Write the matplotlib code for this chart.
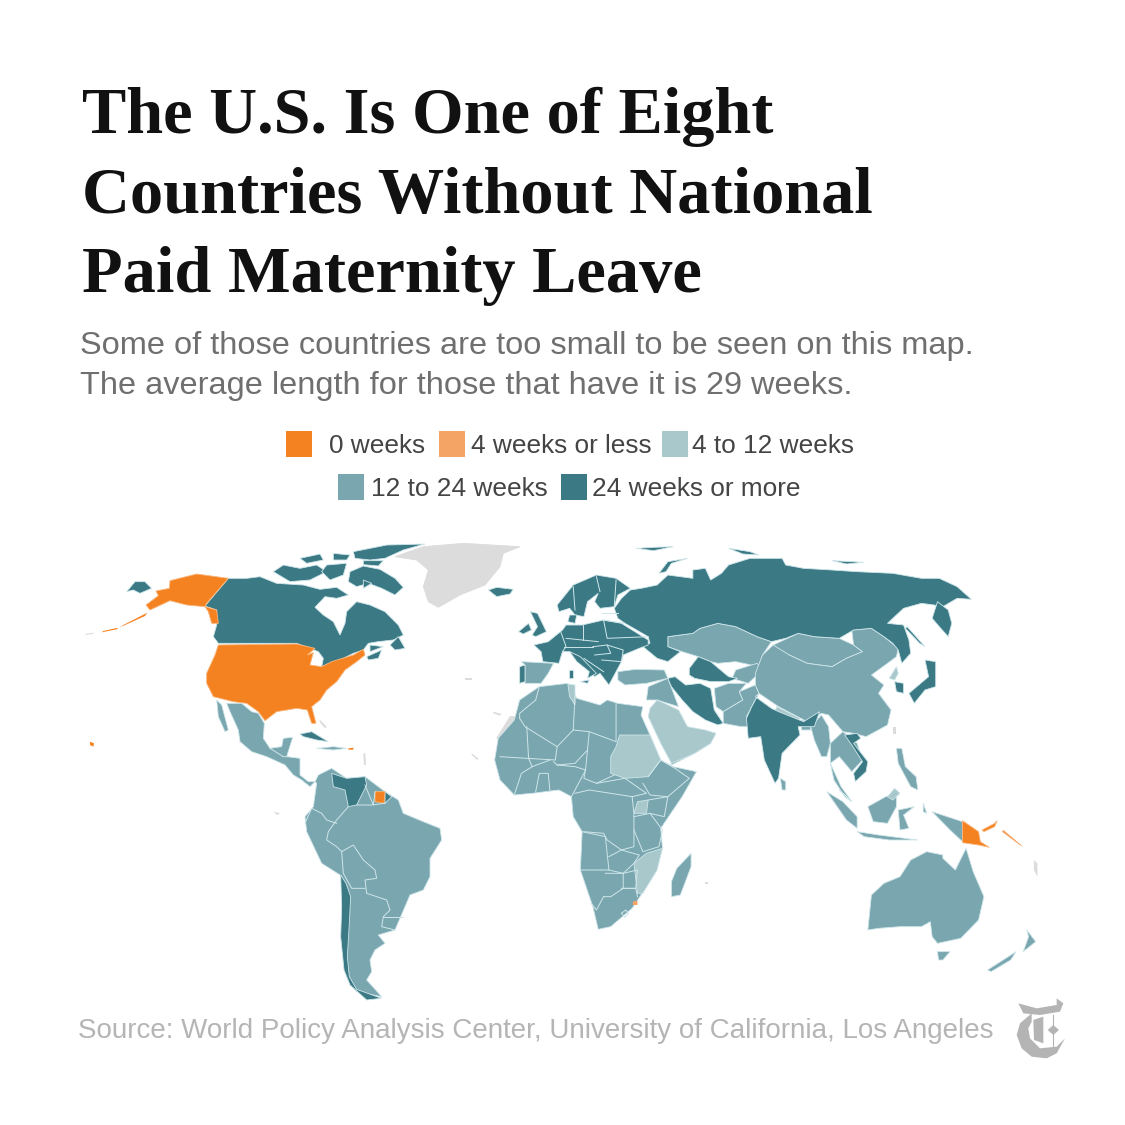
import matplotlib
matplotlib.use('Agg')
import matplotlib.pyplot as plt

# colours
ORANGE = '#f58220'
PALE_ORANGE = '#f4a566'
LIGHT = '#a9c8cb'
MID = '#7aa6af'
DARK = '#3b7a85'
GREY = '#dcdcdc'
EDGE = '#cfe6ea'

title_lines = ['The U.S. Is One of Eight', 'Countries Without National', 'Paid Maternity Leave']
subtitle_lines = ['Some of those countries are too small to be seen on this map.',
                  'The average length for those that have it is 29 weeks.']
source_text = 'Source: World Policy Analysis Center, University of California, Los Angeles'
legend_labels = ['0 weeks', '4 weeks or less', '4 to 12 weeks', '12 to 24 weeks', '24 weeks or more']

# outlines, west half
west_grey = [
    [(975,80),(1060,50),(1180,40),(1350,50),(1300,70),(1290,110),(1245,165),(1170,195),(1105,232),(1075,215),(1060,170),(1075,120),(1040,90)],
    [(1280,625),(1320,560),(1350,560),(1345,575),(1315,585),(1315,625)],
]
west_orange = [
    [(445,345),(680,342),(735,355),(712,375),(730,368),(720,405),(755,410),(785,395),(850,375),(880,358),(885,375),(860,395),(825,420),(800,455),(770,480),(750,510),(725,530),(738,580),(725,580),(712,540),(680,535),(620,545),(585,572),(565,545),(530,520),(490,515),(430,500),(410,460),(410,430),(435,375)],
    [(475,145),(380,132),(300,152),(298,175),(258,183),(265,197),(228,225),(240,240),(300,212),(350,225),(405,230),(440,240),(445,280),(425,280),(415,245),(405,230),(410,220)],
    [(915,785),(945,785),(942,820),(915,815)],
]
west_specks_orange = [
    [(232,248),(160,285),(150,292),(225,258)],
    [(145,293),(100,303),(95,307),(140,298)],
    [(60,635),(72,640),(70,650),(60,645)],
    [(835,655),(850,653),(850,659),(835,659)],
]
west_specks_grey = [
    [(45,312),(70,308),(72,311),(48,315)],
    [(1185,445),(1205,445),(1205,450),(1185,450)],
    [(1270,545),(1295,552),(1290,557),(1270,550)],
    [(1205,670),(1225,685),(1222,690),(1205,675)],
    [(610,845),(630,850),(622,855)],
    [(880,670),(886,670),(888,705),(882,705)],
    [(750,570),(770,590),(765,595),(748,575)],
]
west_mid = [
    [(440,510),(455,525),(475,600),(465,605),(445,560)],
    [(470,520),(515,520),(545,545),(565,550),(583,580),(580,625),(600,655),(635,650),(640,625),(668,622),(650,680),(690,685),(690,735),(715,755),(735,755),(720,770),(695,750),(670,735),(645,705),(590,680),(545,665),(510,635),(505,600),(480,545)],
    [(735,755),(745,735),(785,715),(830,745),(885,740),(945,785),(985,810),(1000,850),(1060,875),(1110,895),(1115,930),(1080,985),(1080,1040),(1060,1080),(1020,1095),(1005,1130),(975,1200),(925,1215),(945,1240),(915,1260),(900,1290),(905,1325),(890,1350),(935,1400),(860,1385),(830,1340),(820,1280),(825,1180),(838,1100),(810,1035),(755,1000),(710,905),(705,860),(730,830),(740,760)],
    [(740,655),(790,650),(830,655),(790,660)],
]
west_dark = [
    [(475,145),(530,145),(570,140),(620,160),(700,165),(750,178),(800,172),(835,195),(800,205),(765,200),(735,232),(760,255),(790,275),(810,315),(825,280),(830,245),(860,215),(900,225),(945,245),(985,285),(1000,315),(970,330),(925,335),(895,340),(880,360),(850,370),(820,385),(780,400),(755,410),(760,385),(745,365),(720,355),(680,340),(445,340),(430,320),(440,285),(440,240),(405,228)],
    [(840,125),(880,108),(930,118),(975,145),(1000,172),(975,195),(935,175),(895,160),(860,170),(835,155)],
    [(850,65),(950,45),(1065,42),(1000,60),(945,85),(900,90),(855,85)],
    [(880,92),(940,92),(925,108),(880,104)],
    [(690,115),(740,105),(770,125),(720,150),(660,155),(610,125),(640,105)],
    [(690,85),(750,72),(760,90),(710,100)],
    [(790,70),(840,75),(830,90),(790,90)],
    [(770,105),(830,100),(820,135),(780,150),(755,125)],
    [(880,150),(905,160),(880,175)],
    [(960,345),(985,320),(1005,355),(975,360)],
    [(890,380),(935,360),(925,385),(895,390)],
    [(900,345),(940,350),(900,365)],
    [(170,185),(195,155),(225,155),(245,175),(210,190),(190,180)],
    [(1255,180),(1280,172),(1330,178),(1320,192),(1280,200)],
    [(785,730),(830,745),(885,740),(890,765),(875,795),(860,825),(835,830),(825,780),(790,770)],
    [(945,785),(965,800),(945,820)],
    [(690,612),(725,605),(775,635),(740,630),(700,620)],
    [(812,1035),(815,1130),(812,1220),(822,1320),(840,1365),(890,1410),(935,1405),(860,1378),(838,1340),(832,1280),(838,1180),(842,1100),(828,1060)],
]
west_borders = [
    [(705,880),(725,835),(755,850),(770,870),(800,880)],
    [(835,830),(800,870),(775,905),(770,930),(800,950),(815,965),(850,945),(880,990),(915,1020),(920,1045),(885,1050),(890,1090),(950,1110),(960,1140),(940,1160),(935,1190),(975,1200)],
    [(815,965),(820,1030),(845,1075),(885,1075)],
    [(940,1160),(1000,1160)],
    [(885,765),(910,825),(915,785)],
    [(860,825),(905,825),(945,820)],
    [(600,655),(640,680),(650,680)],
]

# outlines, east half
east_dark = [
    [(320,235),(340,205),(365,180),(395,175),(440,165),(470,135),(540,145),(540,120),(575,115),(590,150),(620,130),(640,105),(700,85),(790,85),(800,105),(850,115),(930,120),(1000,125),(1100,130),(1180,145),(1230,145),(1280,170),(1320,208),(1280,205),(1240,230),(1215,225),(1180,220),(1130,235),(1085,280),(1130,285),(1145,330),(1150,370),(1125,400),(1115,360),(1100,340),(1075,320),(1040,295),(990,300),(950,325),(880,320),(835,310),(800,325),(760,335),(720,320),(660,290),(610,280),(560,295),(540,310),(470,320),(470,350),(505,365),(470,395),(440,385),(395,345),(420,340),(415,320),(350,280),(330,265)],
    [(445,130),(470,95),(525,85),(480,100),(465,125)],
    [(380,55),(430,52),(485,50),(430,62)],
    [(640,55),(700,65),(725,75),(680,72)],
    [(930,92),(1020,97),(970,102)],
    [(1210,265),(1225,215),(1255,240),(1265,280),(1255,320),(1230,290)],
    [(1140,290),(1190,350),(1175,340),(1135,295)],
    [(160,225),(205,165),(270,135),(325,145),(365,175),(330,195),(320,230),(280,235),(265,215),(275,190),(245,215),(235,260),(210,255),(195,235),(165,245)],
    [(195,255),(215,255),(210,280),(190,275)],
    [(85,245),(105,250),(130,305),(100,320),(90,315),(105,290)],
    [(52,305),(80,280),(88,300),(65,312)],
    [(95,345),(135,335),(175,300),(185,285),(230,285),(290,270),(340,280),(415,330),(415,345),(390,355),(345,375),(340,395),(325,425),(305,465),(280,430),(265,440),(230,395),(215,380),(195,365),(175,365),(165,400),(120,395),(115,365)],
    [(195,365),(225,380),(270,430),(245,445),(250,425),(215,395)],
    [(225,455),(250,450),(245,460)],
    [(192,420),(205,420),(205,445),(193,445)],
    [(55,410),(70,405),(70,455),(55,460)],
    [(470,445),(490,440),(520,465),(560,460),(590,475),(600,540),(625,580),(610,585),(575,570),(540,545),(510,510),(480,470)],
    [(530,415),(555,380),(590,395),(640,440),(665,445),(640,455),(590,455),(545,445),(530,435)],
    [(690,565),(705,530),(725,490),(715,500),(760,535),(780,545),(850,575),(895,545),(880,590),(850,590),(835,590),(840,615),(790,670),(780,745),(770,760),(740,690),(730,620),(695,625)],
    [(1105,455),(1130,460),(1130,490),(1110,485)],
    [(1145,490),(1200,440),(1190,390),(1220,395),(1220,470),(1190,480),(1160,520)],
    [(965,615),(1000,610),(1010,625),(990,640),(1030,695),(1025,725),(995,755),(990,730),(1015,695),(985,645)],
]
east_mid = [
    [(60,395),(150,400),(135,430),(115,460),(70,460),(70,405)],
    [(330,425),(380,418),(460,420),(470,445),(410,460),(350,465),(330,450)],
    [(600,475),(640,460),(690,460),(670,485),(680,510),(625,545),(605,530)],
    [(625,580),(625,545),(680,510),(670,485),(715,465),(725,490),(705,530),(690,560),(695,590),(675,590)],
    [(470,320),(540,310),(560,295),(610,280),(660,290),(720,320),(760,335),(735,375),(725,410),(660,395),(610,400),(590,395),(555,380),(510,365),(470,350)],
    [(660,420),(720,400),(735,420),(695,460),(650,445)],
    [(765,345),(835,310),(880,320),(950,325),(990,345),(1015,365),(970,385),(930,410),(860,400),(810,375),(770,360)],
    [(735,375),(765,345),(810,375),(860,400),(930,410),(970,385),(1015,365),(990,345),(985,300),(1040,295),(1075,320),(1115,355),(1110,380),(1085,400),(1040,435),(1075,465),(1060,490),(1095,540),(1085,585),(1025,620),(990,610),(960,605),(920,555),(900,550),(860,575),(780,530),(725,490),(715,465),(715,430)],
    [(415,470),(470,445),(500,530),(440,510),(410,510)],
    [(840,570),(870,575),(870,600),(845,600)],
    [(870,590),(900,555),(920,590),(925,640),(915,680),(900,680),(880,630)],
    [(925,640),(960,605),(1000,640),(1015,690),(985,725),(950,680),(925,700)],
    [(785,745),(800,755),(800,780),(790,780)],
    [(925,700),(955,770),(985,815),(965,800),(935,750)],
    [(915,785),(960,815),(1000,860),(1000,895),(970,870)],
    [(1000,905),(1060,915),(1170,930),(1090,930),(1020,920)],
    [(1030,830),(1080,800),(1110,790),(1110,830),(1085,880),(1045,875)],
    [(1115,840),(1160,830),(1130,855),(1145,895),(1120,900)],
    [(1110,655),(1125,655),(1135,710),(1165,740),(1170,780),(1150,770),(1115,700)],
    [(1210,845),(1295,875),(1295,935),(1260,900)],
    [(1030,1200),(1040,1095),(1075,1060),(1120,1040),(1150,990),(1195,965),(1240,975),(1240,985),(1275,1020),(1305,955),(1325,1025),(1355,1100),(1340,1170),(1290,1225),(1225,1240),(1210,1220),(1205,1175),(1180,1190),(1120,1190),(1060,1195)],
    [(1225,1265),(1260,1265),(1240,1290),(1228,1290)],
    [(1475,1200),(1500,1235),(1465,1265),(1480,1220)],
    [(1365,1320),(1445,1265),(1430,1290),(1375,1325)],
    [(535,970),(535,1010),(505,1095),(480,1100),(480,1055),(495,1015)],
    [(55,510),(110,470),(190,460),(215,505),(280,525),(300,510),(330,520),(400,530),(395,555),(420,615),(450,690),(485,710),(550,725),(510,800),(450,895),(455,955),(425,990),(410,1040),(395,1095),(370,1135),(310,1190),(275,1198),(260,1130),(225,1020),(230,905),(205,860),(200,800),(165,780),(90,790),(40,795),(0,750),(-15,690),(-5,625),(40,570)],
    [(480,705),(545,670),(590,640),(560,640),(520,665),(475,670)],
    [(1185,820),(1195,850),(1185,845)],
]
east_light = [
    [(335,615),(420,615),(450,690),(415,740),(350,745),(310,730),(310,680),(325,650)],
    [(420,535),(440,510),(500,540),(525,590),(575,600),(605,610),(590,640),(545,670),(480,700),(450,640),(415,560)],
    [(1090,445),(1110,410),(1115,430),(1105,450)],
    [(385,815),(415,810),(410,850),(375,850)],
    [(410,970),(455,955),(440,1020),(400,1090),(385,1090),(375,1000)],
    [(190,462),(210,465),(210,525),(195,500)],
    [(775,530),(840,565),(835,572),(770,545)],
    [(950,780),(985,815),(970,800)],
    [(1085,800),(1105,775),(1120,790),(1100,810)],
]
east_orange = [
    [(1295,872),(1340,905),(1345,935),(1370,952),(1340,945),(1295,938)],
    [(1350,900),(1385,880),(1392,872),(1385,890),(1355,905)],
]
east_pale = [
    [(372,1115),(385,1112),(385,1125),(372,1125)],
    [(1410,900),(1465,950),(1455,945),(1405,905)],
]
east_specks_grey = [
    [(1495,990),(1505,1000),(1505,1040),(1495,1020)],
    [(1100,590),(1108,590),(1108,612),(1100,612)],
    [(575,1055),(582,1055),(582,1062),(575,1062)],
]
east_borders = [
    [(170,305),(185,350),(175,365)],
    [(232,285),(232,330)],
    [(290,270),(300,325),(415,320)],
    [(185,325),(275,335)],
    [(180,350),(260,350)],
    [(260,350),(300,345),(310,370),(265,375)],
    [(300,345),(345,360),(340,395),(285,390)],
    [(235,385),(290,425)],
    [(285,270),(350,280)],
    [(285,250),(330,250)],
    [(205,170),(210,240)],
    [(270,140),(280,185)],
    [(325,150),(320,230)],
    [(110,470),(100,510),(55,550),(55,565)],
    [(55,565),(70,590),(160,650),(155,690),(75,685),(0,680)],
    [(160,650),(205,600),(210,500)],
    [(205,600),(250,605),(325,635),(325,520)],
    [(250,605),(245,660),(240,715),(235,745),(270,760),(320,735)],
    [(245,660),(210,700),(160,705),(150,695)],
    [(75,590),(80,685),(90,710),(140,690)],
    [(160,705),(210,710),(240,720),(200,800)],
    [(40,795),(60,730),(90,710)],
    [(100,785),(110,730),(135,730),(140,785)],
    [(270,760),(350,745),(410,790),(370,800)],
    [(415,740),(450,690),(490,715),(530,745),(470,800),(420,795),(400,760)],
    [(415,810),(470,800),(460,860),(420,850)],
    [(210,790),(250,780),(370,800),(375,850),(375,950),(340,960),(300,930),(290,910),(235,905)],
    [(375,860),(420,850),(455,900),(445,950),(400,965),(375,900)],
    [(230,905),(295,920),(305,1020),(225,1020)],
    [(305,980),(340,960),(390,975),(375,1000),(345,1030),(305,1020)],
    [(345,1030),(385,1020),(380,1075),(340,1075)],
    [(295,1030),(345,1030),(345,1075),(310,1100),(290,1100)],
    [(290,1100),(270,1140),(255,1120)],
    [(345,1075),(380,1075),(385,1100)],
    [(340,1150),(352,1140),(360,1150),(350,1162),(340,1150)],
]

# logo pieces, from the crop of the corner
logo_c = [(215,100),(180,130),(170,165),(185,205),(215,230),(260,235),(290,220),(315,175),(290,200),(240,205),(210,175),(205,145),(215,125)]
logo_top = [(175,70),(230,85),(290,75),(290,55),(310,70),(300,95),(240,105),(190,100)]
logo_stem = [(220,120),(250,110),(250,190),(222,180)]
logo_diamond = [(280,135),(297,150),(280,165),(263,150)]


def west(pts):
    return [(70 + x / 3, 530 + y / 3) for x, y in pts]


def east(pts):
    return [(500 + x / 2.8, 530 + y / 3) for x, y in pts]


def logo(pts):
    return [(960 + x / 3, 980 + y / 3) for x, y in pts]


def draw_shapes(ax, shapes, conv, color, edge=EDGE, lw=0.6):
    for pts in shapes:
        xy = conv(pts)
        ax.fill([p[0] for p in xy], [p[1] for p in xy], facecolor=color, edgecolor=edge, linewidth=lw)


def draw_lines(ax, lines, conv):
    for pts in lines:
        xy = conv(pts)
        ax.plot([p[0] for p in xy], [p[1] for p in xy], color=EDGE, linewidth=0.7)


def main():
    fig = plt.figure(figsize=(11.25, 11.25), dpi=100)
    ax = fig.add_axes([0, 0, 1, 1])
    ax.set_xlim(0, 1125)
    ax.set_ylim(1125, 0)
    ax.axis('off')

    # map
    draw_shapes(ax, west_grey, west, GREY, edge=GREY)
    draw_shapes(ax, west_specks_grey, west, GREY, edge='none', lw=0)
    draw_shapes(ax, east_specks_grey, east, GREY, edge='none', lw=0)
    draw_shapes(ax, west_mid, west, MID)
    draw_shapes(ax, east_mid, east, MID)
    draw_shapes(ax, east_light, east, LIGHT)
    draw_shapes(ax, west_dark, west, DARK)
    draw_shapes(ax, east_dark, east, DARK)
    draw_shapes(ax, west_orange, west, ORANGE, edge='#f9b67c')
    draw_shapes(ax, west_specks_orange, west, ORANGE, edge='none', lw=0)
    draw_shapes(ax, east_orange, east, ORANGE, edge='#f9b67c')
    draw_shapes(ax, east_pale, east, PALE_ORANGE, edge='none', lw=0)
    draw_lines(ax, west_borders, west)
    draw_lines(ax, east_borders, east)

    # title
    for txt, y in zip(title_lines, [133, 213, 292]):
        ax.text(82, y, txt, family='Liberation Serif', fontweight='bold', fontsize=47.8, color='#111111', va='baseline')

    for txt, y in zip(subtitle_lines, [354, 394]):
        ax.text(80, y, txt, family='Liberation Sans', fontsize=23.4, color='#6f6f6f', va='baseline')

    # legend
    squares = [(286, 431), (439, 431), (662, 431), (338, 474), (561, 474)]
    colors = [ORANGE, PALE_ORANGE, LIGHT, MID, DARK]
    text_x = [329, 471, 692, 371, 592]
    for (sx, sy), c, tx, lab in zip(squares, colors, text_x, legend_labels):
        ax.add_patch(plt.Rectangle((sx, sy), 26, 26, facecolor=c, edgecolor='none'))
        ax.text(tx, sy + 22, lab, family='Liberation Sans', fontsize=18.9, color='#444444', va='baseline')

    # source and logo
    ax.text(78, 1038, source_text, family='Liberation Sans', fontsize=20, color='#b5b5b5', va='baseline')
    for pts in [logo_c, logo_top, logo_stem, logo_diamond]:
        xy = logo(pts)
        ax.fill([p[0] for p in xy], [p[1] for p in xy], color='#b4b4b4', linewidth=0)
    ax.plot([1053, 1053], [1015, 1050], color='#b4b4b4', linewidth=0.8)

    fig.savefig('out.png', dpi=100, facecolor='white')


if __name__ == "__main__":
    main()
